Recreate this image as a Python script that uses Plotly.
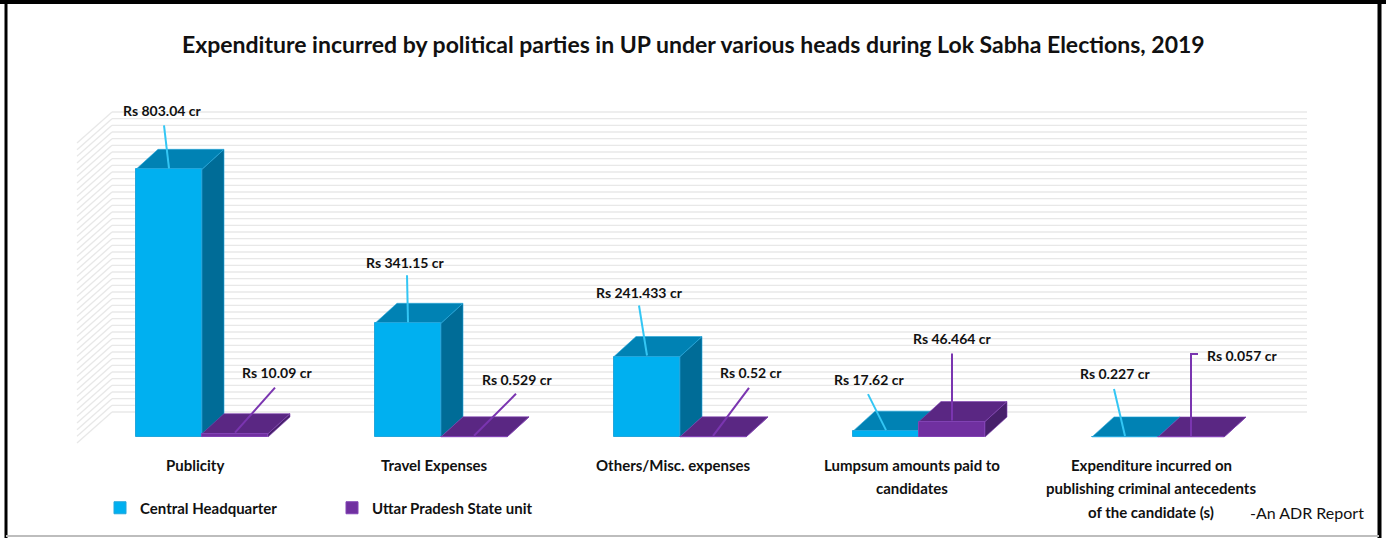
import plotly.graph_objects as go

# ---------------- data ----------------
categories = [
    "Publicity",
    "Travel Expenses",
    "Others/Misc. expenses",
    "Lumpsum amounts paid to\ncandidates",
    "Expenditure incurred on\npublishing criminal antecedents\nof the candidate (s)",
]
central_hq = [803.04, 341.15, 241.433, 17.62, 0.227]
up_state = [10.09, 0.529, 0.52, 46.464, 0.057]
series_names = ["Central Headquarter", "Uttar Pradesh State unit"]
title_text = "Expenditure incurred by political parties in UP under various heads during Lok Sabha Elections, 2019"
source_text = "-An ADR Report"
grid_max = 900
grid_step = 20

# ---------------- geometry (pixels) ----------------
W, H = 1386, 538
X0_PX = 202          # pixel x of first category centre
CAT_PX = 239         # pixels per category
VAL_PER_PX = 3.0     # value units per pixel
ZERO_PY = 437        # pixel y of the value 0 at bar front
BAR_W = 66 / CAT_PX
DX = 22 / CAT_PX     # 3-D depth offset (x)
DV = 20 * VAL_PER_PX # 3-D depth offset (value)
WALL_DV = 25 * VAL_PER_PX
WALL_LEFT_PX, WALL_RIGHT_PX, WALL_FRONT_PX, WALL_FRONT_DPY = 112, 1307, 77, 31

FONT = "Lato, 'Open Sans', sans-serif"

def px2x(px):
    return (px - X0_PX) / CAT_PX

def dxp(d):
    return d / CAT_PX

def dyp(d):  # screen px (down positive) -> value units
    return -d * VAL_PER_PX

def py2paper(py):
    return 1 - py / H

def px2paper(px):
    return px / W

styles = [
    dict(front="#00B0F0", top="#0082B4", side="#006C97", edge="#23A6DC", leader="#33C6F4"),
    dict(front="#7030A0", top="#5A2783", side="#47206B", edge="#8142B4", leader="#7A35B0"),
]

# label placement (px): leader start dx, dy ; label centre dx, dy ; optional elbow
label_pos = [
    [(-5, -43, -7, -58, None), (-1, -47, -3, -60, None), (-8, -50, -8, -63, None),
     (-18, -36, -17, -51, None), (-11, -47, -10, -62, None)],
    [(40, -45, 42, -60, None), (42, -42, 43, -56, None), (36, -48, 38, -63, None),
     (0, -67, 0, -82, None), (7, -82, 51, -80, (0, -82))],
]

fig = go.Figure()
shapes = []
annotations = []

# ---------------- walls / gridlines ----------------
xbl, xbr, xfl = px2x(WALL_LEFT_PX), px2x(WALL_RIGHT_PX), px2x(WALL_FRONT_PX)
for g in range(0, grid_max + 1, grid_step):
    yb = g + WALL_DV
    shapes.append(dict(type="line", xref="x", yref="y", x0=xbl, x1=xbr, y0=yb, y1=yb,
                       line=dict(color="#E8E8E8", width=1.3), layer="below"))
    shapes.append(dict(type="line", xref="x", yref="y", x0=xbl, x1=xfl, y0=yb,
                       y1=yb + dyp(WALL_FRONT_DPY),
                       line=dict(color="#E8E8E8", width=1.3), layer="below"))

# ---------------- bars ----------------
series = [central_hq, up_state]
xs = list(range(len(categories)))
for s, vals in enumerate(series):
    st = styles[s]
    fig.add_trace(go.Bar(
        x=xs, y=vals, name=series_names[s],
        offset=-BAR_W if s == 0 else 0, width=BAR_W,
        marker=dict(color=st["front"], line=dict(color=st["edge"], width=1)),
        legend="legend" if s == 0 else "legend2",
        hoverinfo="skip",
    ))

# top and side faces as shapes (below the front faces)
for i in xs:
    for s, vals in enumerate(series):
        st = styles[s]
        v = vals[i]
        x0 = i - BAR_W if s == 0 else i
        x1 = x0 + BAR_W
        side = (f"M{x1},0 L{x1},{v} L{x1+DX},{v+DV} L{x1+DX},{DV} Z")
        top = (f"M{x0},{v} L{x1},{v} L{x1+DX},{v+DV} L{x0+DX},{v+DV} Z")
        shapes.append(dict(type="path", xref="x", yref="y", path=side, fillcolor=st["side"],
                           line=dict(color=st["edge"], width=0.6), layer="below"))
        shapes.append(dict(type="path", xref="x", yref="y", path=top, fillcolor=st["top"],
                           line=dict(color=st["edge"], width=0.6), layer="below"))

# ---------------- data labels & leaders ----------------
for s, vals in enumerate(series):
    st = styles[s]
    for i, v in enumerate(vals):
        ax = i - BAR_W / 2 if s == 0 else i + BAR_W / 2
        ay = v + dyp(-1)
        sdx, sdy, ldx, ldy, elbow = label_pos[s][i]
        pts = [(ax, ay)]
        if elbow:
            pts.append((ax + dxp(elbow[0]), ay + dyp(elbow[1])))
        pts.append((ax + dxp(sdx), ay + dyp(sdy)))
        path = "M" + " L".join(f"{px},{py}" for px, py in pts)
        shapes.append(dict(type="path", xref="x", yref="y", path=path,
                           line=dict(color=st["leader"], width=2), layer="above"))
        annotations.append(dict(x=ax + dxp(ldx), y=ay + dyp(ldy), xref="x", yref="y",
                                text=f"Rs {v} cr", showarrow=False,
                                xanchor="center", yanchor="middle",
                                font=dict(family=FONT, size=14, color="#111111", weight="bold")))

# ---------------- category labels ----------------
line_py = [465, 488, 512]
for i, cat in enumerate(categories):
    for k, line in enumerate(cat.split("\n")):
        annotations.append(dict(x=i + dxp(-7), y=py2paper(line_py[k]), xref="x", yref="paper",
                                text=line, showarrow=False, xanchor="center", yanchor="middle",
                                font=dict(family=FONT, size=15, color="#111111", weight="bold")))

# title and source
annotations.append(dict(x=0.5, y=py2paper(44), xref="paper", yref="paper", text=title_text,
                        showarrow=False, xanchor="center", yanchor="middle",
                        font=dict(family=FONT, size=23, color="#111111", weight="bold")))
annotations.append(dict(x=px2paper(1307), y=py2paper(512), xref="paper", yref="paper",
                        text=source_text, showarrow=False, xanchor="center", yanchor="middle",
                        font=dict(family=FONT, size=16, color="#111111")))

# frame
shapes += [
    dict(type="line", xref="paper", yref="paper", x0=0, x1=1, y0=py2paper(2), y1=py2paper(2),
         line=dict(color="black", width=4)),
    dict(type="line", xref="paper", yref="paper", x0=px2paper(6), x1=px2paper(6), y0=0, y1=1,
         line=dict(color="black", width=3)),
    dict(type="line", xref="paper", yref="paper", x0=px2paper(1379.5), x1=px2paper(1379.5), y0=0, y1=1,
         line=dict(color="black", width=4)),
    dict(type="line", xref="paper", yref="paper", x0=px2paper(6), x1=px2paper(1379), y0=py2paper(536),
         y1=py2paper(536), line=dict(color="#BDBDBD", width=2)),
]

legend_font = dict(family=FONT, size=15, color="#111111", weight="bold")
fig.update_layout(
    width=W, height=H, margin=dict(l=0, r=0, t=0, b=0),
    paper_bgcolor="white", plot_bgcolor="white",
    barmode="overlay", bargap=0,
    xaxis=dict(range=[px2x(0), px2x(W)], visible=False, fixedrange=True),
    yaxis=dict(range=[dyp(H - ZERO_PY), dyp(-ZERO_PY)], visible=False, fixedrange=True),
    shapes=shapes, annotations=annotations,
    showlegend=True,
    legend=dict(x=px2paper(100), y=py2paper(508), xanchor="left", yanchor="middle",
                orientation="h", font=legend_font, bgcolor="rgba(0,0,0,0)"),
    legend2=dict(x=px2paper(332), y=py2paper(508), xanchor="left", yanchor="middle",
                 orientation="h", font=legend_font, bgcolor="rgba(0,0,0,0)"),
)

fig.write_html("out.html", config={"displayModeBar": False},
               post_script="document.body.style.margin='0px';document.body.style.overflow='hidden';")
